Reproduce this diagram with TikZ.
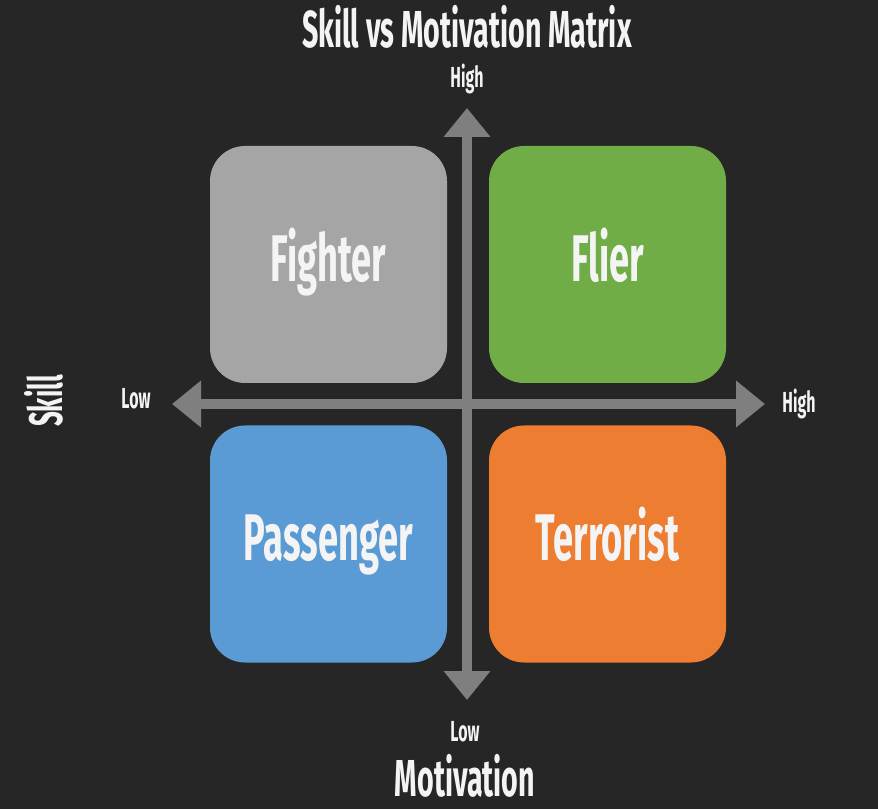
\documentclass[tikz,border=0pt]{standalone}
\usepackage{fontspec}
\setmainfont{Fira Sans}[FakeStretch=0.55]
\usepackage{tikz}
\usetikzlibrary{arrows.meta}
\definecolor{bgdark}{HTML}{262626}
\definecolor{axisgrey}{HTML}{7F7F7F}
\definecolor{labelwhite}{HTML}{F4F4F4}
\definecolor{fightergrey}{HTML}{A5A5A5}
\definecolor{fliergreen}{HTML}{70AD47}
\definecolor{passblue}{HTML}{5B9BD5}
\definecolor{terrorange}{HTML}{ED7D31}

\begin{document}
\begin{tikzpicture}[x=1pt, y=1pt,
  quad/.style={rounded corners=35pt, minimum width=237pt, minimum height=237pt,
    inner sep=0pt, text=labelwhite, font=\bfseries\fontsize{66}{70}\selectfont,
    text height=48pt, text depth=14pt},
  axis/.style={axisgrey, line width=10pt,
    {Triangle[width=45pt,length=29pt]}-{Triangle[width=45pt,length=29pt]}},
  tick/.style={text=labelwhite, font=\bfseries\fontsize{29}{32}\selectfont,
    anchor=base, inner sep=0pt},
  heading/.style={text=labelwhite, font=\bfseries\fontsize{52}{56}\selectfont,
    anchor=base, inner sep=0pt}]
  % ---------- background / page size ----------
  \fill[bgdark] (0,0) rectangle (878,809);
  \useasboundingbox (0,0) rectangle (878,809);
  % ---------- axes ----------
  \coordinate (mlow) at (172,405);
  \coordinate (mhigh) at (765,405);
  \coordinate (slow) at (467,109);
  \coordinate (shigh) at (467,701);
  \draw[axis] (mlow) -- (mhigh);
  \draw[axis] (slow) -- (shigh);
  % ---------- the four quadrants ----------
  \node[quad, fill=fightergrey] (fighter) at (328.5,544.5) {Fighter};
  \node[quad, fill=fliergreen] (flier) at (607.5,544.5) {Flier};
  \node[quad, fill=passblue] (passenger) at (328.5,265) {Passenger};
  \node[quad, fill=terrorange] (terrorist) at (607.5,265) {Terrorist};
  % ---------- titles and axis ends ----------
  \node[heading] (title) at (467,761) {Skill vs Motivation Matrix};
  \node[heading] (motivation) at (465,13) {Motivation};
  \node[heading, rotate=90, font=\bfseries\fontsize{47}{50}\selectfont] (skill) at (62,408) {Skill};
  \node[tick] (tophigh) at (467,721) {High};
  \node[tick] (bottomlow) at (465,68) {Low};
  \node[tick] (leftlow) at (136,400) {Low};
  \node[tick] (righthigh) at (799,396) {High};
\end{tikzpicture}
\end{document}
